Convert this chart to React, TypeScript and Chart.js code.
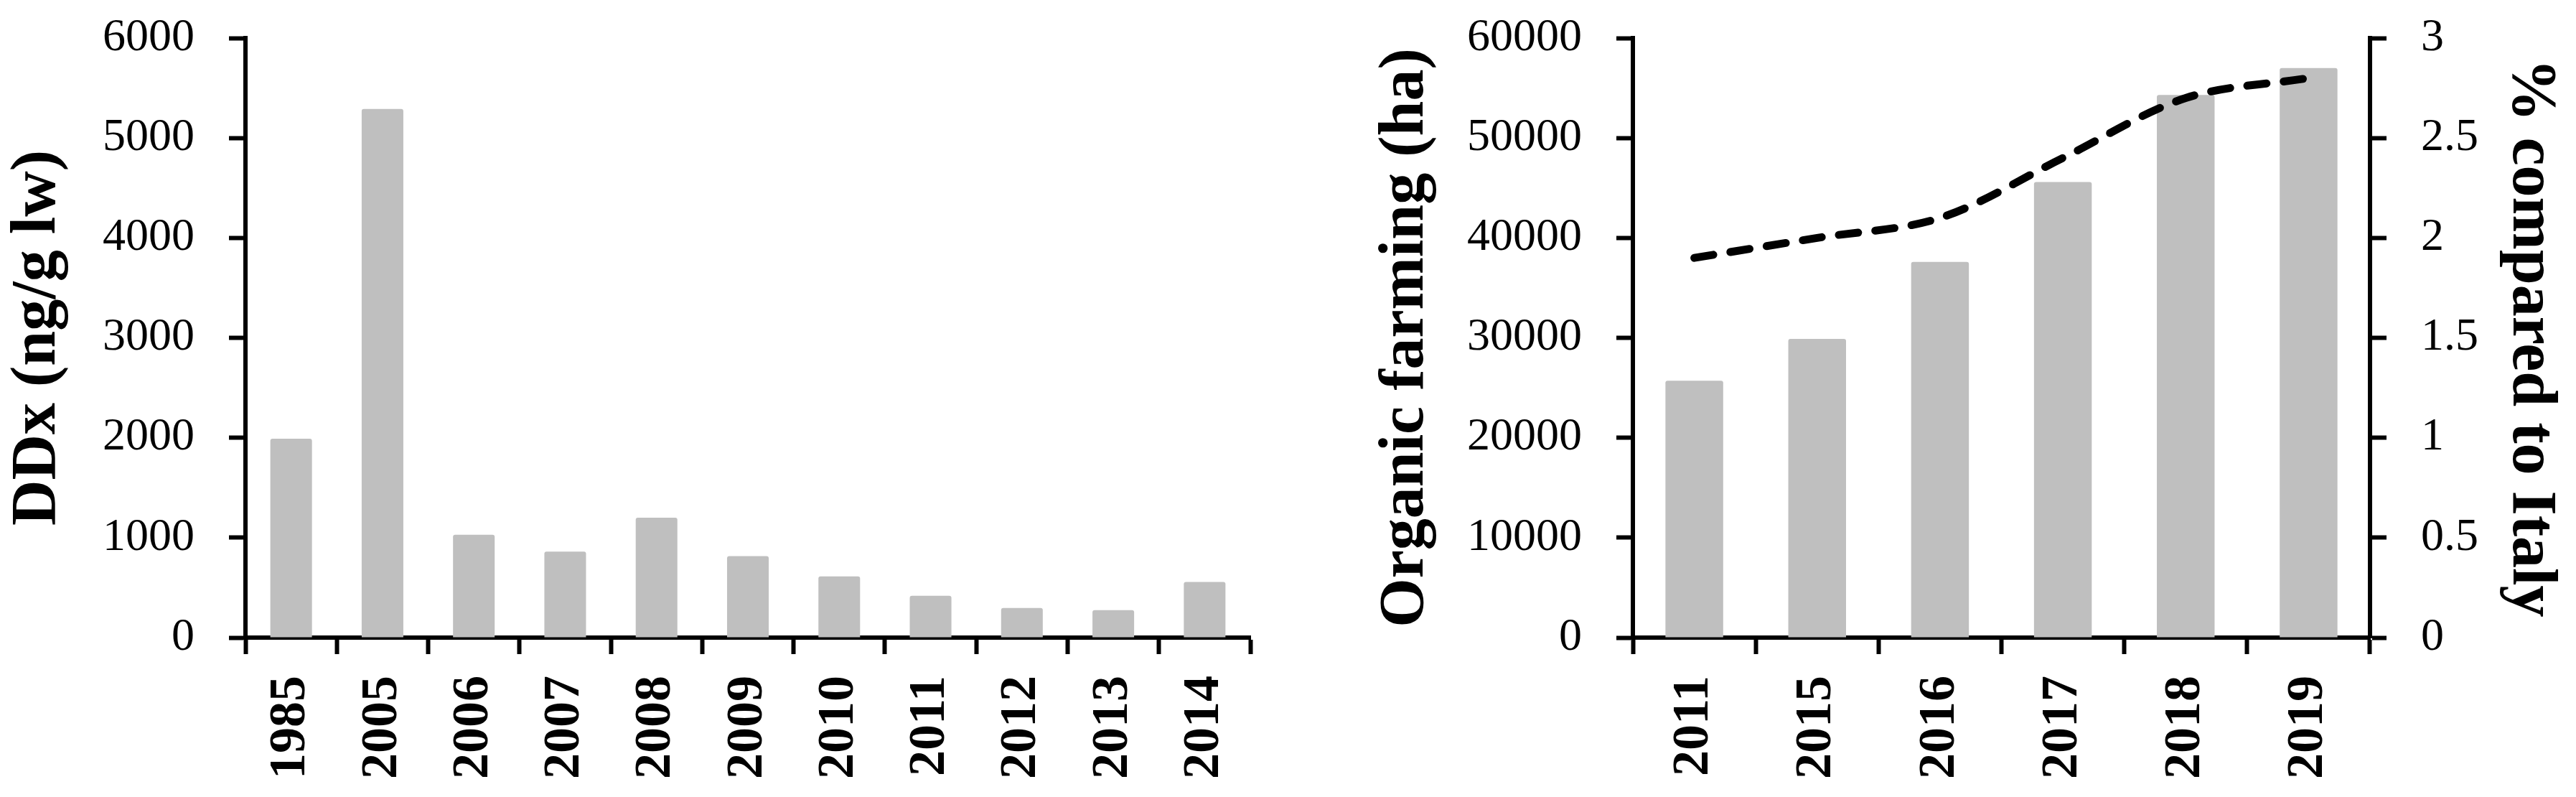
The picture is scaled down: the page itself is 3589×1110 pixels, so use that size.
import React, { useEffect, useRef } from 'react';
import { Chart, registerables } from 'chart.js';

Chart.register(...registerables);

// ---- Data (left panel) ----
const ddxYears = ['1985', '2005', '2006', '2007', '2008', '2009', '2010', '2011', '2012', '2013', '2014'];
const ddxValues = [1990, 5290, 1030, 860, 1200, 815, 612, 418, 296, 275, 556];
const ddxAxisMax = 6000;
const ddxAxisStep = 1000;
const ddxTitle = 'DDx (ng/g lw)';

// ---- Data (right panel) ----
const farmYears = ['2011', '2015', '2016', '2017', '2018', '2019'];
const farmHectares = [25700, 29900, 37600, 45600, 54300, 57000];
const farmPercentItaly = [1.9, 2.0, 2.1, 2.4, 2.7, 2.8];
const farmAxisMax = 60000;
const farmAxisStep = 10000;
const pctAxisMax = 3;
const pctAxisStep = 0.5;
const farmTitle = 'Organic farming (ha)';
const pctTitle = '% compared to Italy';

const FONT = "'Liberation Serif', 'Times New Roman', serif";
const BAR = '#bfbfbf';
const INK = '#000000';

const fix = (w?: number, h?: number) => (scale: any) => {
  if (w !== undefined) scale.width = w;
  if (h !== undefined) scale.height = h;
  scale.paddingTop = 0;
  scale.paddingBottom = 0;
  scale.paddingLeft = 0;
  scale.paddingRight = 0;
};

const gridTicks = (offset = false) => ({
  display: true,
  drawOnChartArea: false,
  drawTicks: true,
  tickLength: 23,
  tickWidth: 6,
  tickColor: INK,
  color: INK,
  offset,
});

const border = { display: true, color: INK, width: 6 };

const xTicks = {
  font: { family: FONT, size: 72, weight: 'bold' as const },
  color: INK,
  maxRotation: 90,
  minRotation: 90,
  padding: 30,
  autoSkip: false,
};

const yTicks = (step: number) => ({
  stepSize: step,
  font: { family: FONT, size: 64 },
  color: INK,
  padding: 48,
  callback: (v: any) => String(v),
});

const axisTitle = (text: string, pad: number) => ({
  display: true,
  text,
  color: INK,
  font: { family: FONT, size: 88, weight: 'bold' as const, lineHeight: 1 },
  padding: { top: pad, bottom: 0 },
});

export default function App() {
  const leftRef = useRef<HTMLCanvasElement | null>(null);
  const rightRef = useRef<HTMLCanvasElement | null>(null);

  useEffect(() => {
    Chart.defaults.font.family = FONT;
    const left = new Chart(leftRef.current!, {
      type: 'bar',
      data: {
        labels: ddxYears,
        datasets: [
          {
            data: ddxValues,
            backgroundColor: BAR,
            borderRadius: 3,
            borderSkipped: 'start',
            categoryPercentage: 1,
            barPercentage: 0.456,
          },
        ],
      },
      options: {
        animation: false,
        responsive: false,
        devicePixelRatio: 1,
        layout: { padding: { left: 0, top: 53, right: 58, bottom: 0 } },
        plugins: { legend: { display: false }, tooltip: { enabled: false } },
        scales: {
          x: {
            z: 1,
            grid: gridTicks(true),
            border,
            ticks: xTicks,
            afterFit: fix(undefined, 222),
          },
          y: {
            min: 0,
            max: ddxAxisMax,
            grid: gridTicks(),
            border,
            ticks: yTicks(ddxAxisStep),
            title: axisTitle(ddxTitle, 9),
            afterFit: fix(342),
          },
        },
      },
    } as any);

    const right = new Chart(rightRef.current!, {
      type: 'bar',
      data: {
        labels: farmYears,
        datasets: [
          {
            type: 'line',
            data: farmPercentItaly,
            yAxisID: 'y1',
            borderColor: INK,
            borderWidth: 11,
            borderDash: [27, 24],
            borderCapStyle: 'round',
            borderJoinStyle: 'round',
            tension: 0.33,
            pointRadius: 0,
            fill: false,
            order: 0,
          },
          {
            type: 'bar',
            data: farmHectares,
            yAxisID: 'y',
            backgroundColor: BAR,
            borderRadius: 3,
            borderSkipped: 'start',
            categoryPercentage: 1,
            barPercentage: 0.47,
            order: 1,
          },
        ],
      },
      options: {
        animation: false,
        responsive: false,
        devicePixelRatio: 1,
        layout: { padding: { left: 0, top: 53, right: 0, bottom: 0 } },
        plugins: { legend: { display: false }, tooltip: { enabled: false } },
        scales: {
          x: {
            z: 1,
            offset: true,
            grid: gridTicks(true),
            border,
            ticks: xTicks,
            afterFit: fix(undefined, 222),
          },
          y: {
            position: 'left',
            min: 0,
            max: farmAxisMax,
            grid: gridTicks(),
            border,
            ticks: yTicks(farmAxisStep),
            title: axisTitle(farmTitle, 115),
            afterFit: fix(475),
          },
          y1: {
            position: 'right',
            min: 0,
            max: pctAxisMax,
            grid: gridTicks(),
            border,
            ticks: yTicks(pctAxisStep),
            title: axisTitle(pctTitle, 20),
            afterFit: fix(287),
          },
        },
      },
    } as any);

    return () => {
      left.destroy();
      right.destroy();
    };
  }, []);

  return (
    <div
      style={{
        position: 'absolute',
        left: 0,
        top: 0,
        width: 3589,
        height: 1110,
        background: '#ffffff',
        overflow: 'hidden',
      }}
    >
      <canvas
        ref={leftRef}
        width={1800}
        height={1110}
        style={{ position: 'absolute', left: 0, top: 0, width: 1800, height: 1110 }}
      />
      <canvas
        ref={rightRef}
        width={1789}
        height={1110}
        style={{ position: 'absolute', left: 1800, top: 0, width: 1789, height: 1110 }}
      />
    </div>
  );
}
